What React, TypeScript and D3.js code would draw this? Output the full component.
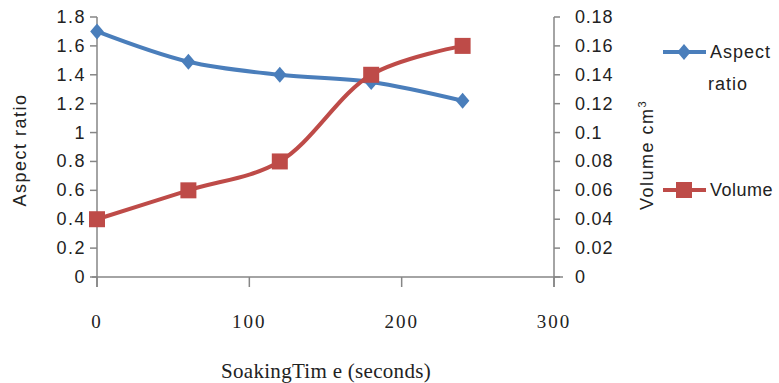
import React from 'react';
import * as d3 from 'd3';

const times = [0, 60, 120, 180, 240];
const aspectRatio = [1.7, 1.49, 1.4, 1.35, 1.22];
const volume = [0.04, 0.06, 0.08, 0.14, 0.16];
const leftTicks = [0, 0.2, 0.4, 0.6, 0.8, 1, 1.2, 1.4, 1.6, 1.8];
const rightTicks = [0, 0.02, 0.04, 0.06, 0.08, 0.1, 0.12, 0.14, 0.16, 0.18];
const xTicks = [0, 100, 200, 300];

const BLUE = '#4a7ebb';
const RED = '#be4b48';
const AXIS = '#868686';
const SANS = 'Liberation Sans, Arial, sans-serif';
const SERIF = 'Liberation Serif, Times New Roman, serif';

const App = () => {
  const x = d3.scaleLinear().domain([0, 300]).range([97, 554]);
  const yL = d3.scaleLinear().domain([0, 1.8]).range([277, 17]);
  const yR = d3.scaleLinear().domain([0, 0.18]).range([277, 17]);

  const lineA = d3.line<number>()
    .x((_, i) => x(times[i]))
    .y(d => yL(d))
    .curve(d3.curveCatmullRom.alpha(0.5));
  const lineV = d3.line<number>()
    .x((_, i) => x(times[i]))
    .y(d => yR(d))
    .curve(d3.curveCatmullRom.alpha(0.5));

  const diamond = (cx: number, cy: number, r = 8) =>
    `M${cx},${cy - r}L${cx + r * 0.85},${cy}L${cx},${cy + r}L${cx - r * 0.85},${cy}Z`;

  return (
    <svg width={779} height={383} style={{ position: 'absolute', left: 0, top: 0, background: '#fff' }}>
      {/* left axis */}
      <line x1={x(0)} x2={x(0)} y1={yL(1.8)} y2={287} stroke={AXIS} strokeWidth={1.5} />
      {leftTicks.map(t => (
        <g key={'l' + t}>
          <line x1={x(0) - 7} x2={x(0)} y1={yL(t)} y2={yL(t)} stroke={AXIS} strokeWidth={1.5} />
          <text x={86} y={yL(t) + 6} textAnchor="end" fontFamily={SANS} fontSize={18}
            letterSpacing={1.5} fill="#222">{String(t)}</text>
        </g>
      ))}
      {/* right axis */}
      <line x1={x(300)} x2={x(300)} y1={yR(0.18)} y2={287} stroke={AXIS} strokeWidth={1.5} />
      {rightTicks.map(t => (
        <g key={'r' + t}>
          <line x1={x(300)} x2={x(300) + 6} y1={yR(t)} y2={yR(t)} stroke={AXIS} strokeWidth={1.5} />
          <text x={575} y={yR(t) + 6} textAnchor="start" fontFamily={SANS} fontSize={18}
            letterSpacing={0.8} fill="#222">{String(t)}</text>
        </g>
      ))}
      {/* x axis */}
      <line x1={92} x2={563} y1={yL(0)} y2={yL(0)} stroke={AXIS} strokeWidth={1.5} />
      {xTicks.map(t => (
        <g key={'x' + t}>
          <line x1={x(t)} x2={x(t)} y1={yL(0)} y2={yL(0) + 10} stroke={AXIS} strokeWidth={1.5} />
          <text x={x(t)} y={328} textAnchor="middle" fontFamily={SERIF} fontSize={19}
            letterSpacing={2} fill="#222">{t}</text>
        </g>
      ))}

      {/* series */}
      <path d={lineA(aspectRatio) ?? ''} fill="none" stroke={BLUE} strokeWidth={4} strokeLinejoin="round" />
      <path d={lineV(volume) ?? ''} fill="none" stroke={RED} strokeWidth={4} strokeLinejoin="round" />
      {aspectRatio.map((d, i) => (
        <path key={'a' + i} d={diamond(x(times[i]), yL(d))} fill={BLUE} />
      ))}
      {volume.map((d, i) => (
        <rect key={'v' + i} x={x(times[i]) - 8} y={yR(d) - 8} width={16} height={16} fill={RED} />
      ))}

      {/* axis titles */}
      <text transform="translate(26,150) rotate(-90)" textAnchor="middle" fontFamily={SANS}
        fontSize={18} letterSpacing={1.5} fill="#222">Aspect ratio</text>
      <text transform="translate(653,155) rotate(-90)" textAnchor="middle" fontFamily={SANS}
        fontSize={18} letterSpacing={1.5} fill="#222">
        Volume cm<tspan dy={-7} fontSize={11}>3</tspan>
      </text>
      <text x={326} y={378} textAnchor="middle" fontFamily={SERIF} fontSize={21} letterSpacing={0.3} fill="#222">
        SoakingTim e (seconds)
      </text>

      {/* legend */}
      <line x1={663} x2={706} y1={52} y2={52} stroke={BLUE} strokeWidth={4} />
      <path d={diamond(684, 52, 8)} fill={BLUE} />
      <text x={710} y={58} fontFamily={SANS} fontSize={18} letterSpacing={1} fill="#222">Aspect</text>
      <text x={708} y={90} fontFamily={SANS} fontSize={18} letterSpacing={1} fill="#222">ratio</text>
      <line x1={663} x2={706} y1={190} y2={190} stroke={RED} strokeWidth={4} />
      <rect x={676} y={182} width={16} height={16} fill={RED} />
      <text x={710} y={196} fontFamily={SANS} fontSize={18} letterSpacing={0.5} fill="#222">Volume</text>
    </svg>
  );
};

export default App;
